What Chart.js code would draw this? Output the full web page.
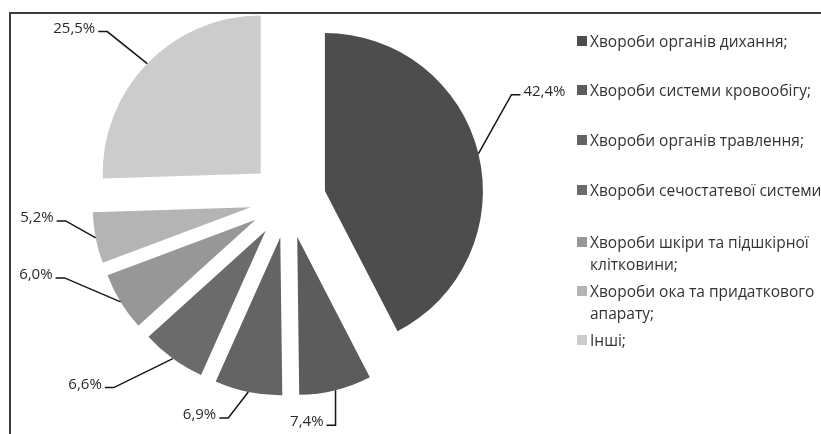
<!DOCTYPE html>
<html><head><meta charset="utf-8">
<script src="https://cdn.jsdelivr.net/npm/chart.js@4/dist/chart.umd.min.js"></script>
<style>
html,body{margin:0;padding:0;background:#fff;width:821px;height:434px;overflow:hidden;}
#wrap{position:relative;width:821px;height:434px;overflow:hidden;}
#frame{position:absolute;left:9px;top:12px;right:-5px;bottom:-5px;border-top:2px solid #3c3c3c;border-left:2px solid #3c3c3c;}
canvas{position:absolute;left:0;top:0;}
#legend{position:absolute;left:0;top:0;width:821px;height:434px;font-family:"Open Sans";font-size:15.5px;color:#333;}
.item{position:absolute;left:577px;white-space:pre;line-height:22px;}
.sw{position:absolute;left:0;top:6px;width:10px;height:10px;}
.txt{position:absolute;left:13px;top:0;}
</style></head>
<body><div id="wrap"><div id="frame"></div><canvas id="c" width="821" height="434"></canvas><div id="legend"></div></div>
<script>
// ---- data ----
const categories = [
  'Хвороби органів дихання;',
  'Хвороби системи кровообігу;',
  'Хвороби органів травлення;',
  'Хвороби сечостатевої системи;',
  'Хвороби шкіри та підшкірної\nклітковини;',
  'Хвороби ока та придаткового\nапарату;',
  'Інші;'
];
const shares = [42.4, 7.4, 6.9, 6.6, 6.0, 5.2, 25.5];
const valueLabels = ['42,4%', '7,4%', '6,9%', '6,6%', '6,0%', '5,2%', '25,5%'];

// ---- style / layout ----
const colors = ['#4d4d4d', '#5c5c5c', '#646464', '#6b6b6b', '#979797', '#b4b4b4', '#cccccc'];
const EXPLODE = 38;
const leaderDx = [33, 0, -20, -59, -56, -30, -40];
const leaderDy = [-59, 35, 26, 29, -24, -17, -32];
const leaderSide = [1, -1, -1, -1, -1, -1, -1];
const legendTops = [30, 79, 129, 179, 231, 280, 329];

// legend (HTML text)
const lg = document.getElementById('legend');
categories.forEach((c, i) => {
  const it = document.createElement('div');
  it.className = 'item';
  it.style.top = legendTops[i] + 'px';
  const sw = document.createElement('div');
  sw.className = 'sw';
  sw.style.background = colors[i];
  const tx = document.createElement('div');
  tx.className = 'txt';
  tx.textContent = c;
  it.appendChild(sw); it.appendChild(tx);
  lg.appendChild(it);
});

const explodePlugin = {
  id: 'explode',
  afterDatasetsUpdate(chart) {
    chart.getDatasetMeta(0).data.forEach(a => {
      const m = (a.startAngle + a.endAngle) / 2;
      a.x += Math.cos(m) * EXPLODE;
      a.y += Math.sin(m) * EXPLODE;
    });
  }
};

const labelPlugin = {
  id: 'leaders',
  afterDatasetsDraw(chart) {
    const ctx = chart.ctx;
    ctx.save();
    ctx.strokeStyle = '#151515';
    ctx.lineWidth = 1.5;
    ctx.fillStyle = '#2a2a2a';
    ctx.font = '15px "Open Sans"';
    ctx.textBaseline = 'middle';
    chart.getDatasetMeta(0).data.forEach((a, i) => {
      const m = (a.startAngle + a.endAngle) / 2;
      const ax = a.x + Math.cos(m) * a.outerRadius;
      const ay = a.y + Math.sin(m) * a.outerRadius;
      const ex = ax + leaderDx[i], ey = ay + leaderDy[i];
      const s = leaderSide[i];
      const hx = ex + s * 9;
      ctx.beginPath();
      ctx.moveTo(ax, ay); ctx.lineTo(ex, ey); ctx.lineTo(hx, ey);
      ctx.stroke();
      ctx.textAlign = s > 0 ? 'left' : 'right';
      ctx.fillText(valueLabels[i], hx + s * 3, ey - 3);
    });
    ctx.restore();
  }
};

new Chart(document.getElementById('c'), {
  type: 'pie',
  data: {
    labels: categories,
    datasets: [{ data: shares, backgroundColor: colors, borderWidth: 0 }]
  },
  options: {
    responsive: false,
    animation: false,
    events: [],
    radius: 158,
    layout: { padding: { left: 0, right: 245, top: 0, bottom: 34 } },
    plugins: { legend: { display: false }, tooltip: { enabled: false } }
  },
  plugins: [explodePlugin, labelPlugin]
});
</script>
</body></html>
